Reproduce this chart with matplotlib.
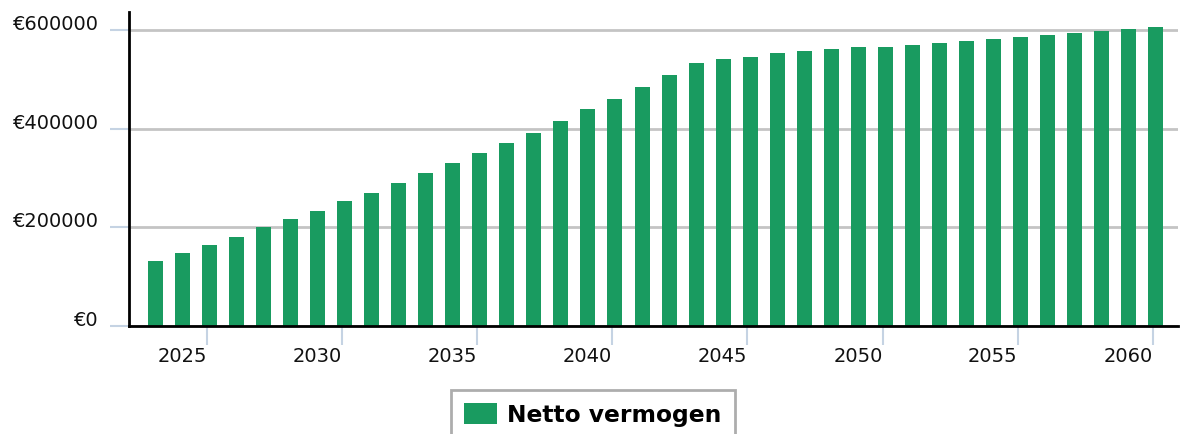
import matplotlib
matplotlib.use("Agg")
import matplotlib.pyplot as plt

# netto vermogen per jaar
years = list(range(2023, 2061))
vermogen = [132000, 148500, 165000, 181000, 201000, 217500, 233500, 254000,
            270000, 290500, 310500, 331000, 351000, 371500, 392000, 416000,
            440500, 460500, 485000, 509500, 533500, 542000, 546000, 554000,
            558000, 562000, 566000, 566000, 570000, 574000, 578000, 582500,
            586500, 590500, 594500, 598500, 602500, 606500]
xticks = [2025, 2030, 2035, 2040, 2045, 2050, 2055, 2060]
yticks = [0, 200000, 400000, 600000]
ylabels = ["€" + str(v) for v in yticks]

green = "#199b60"
tickblue = "#c5d3e3"

fig = plt.figure(figsize=(11.87, 4.34), dpi=100)
ax = fig.add_axes([0.1087, 0.2488, 0.8837, 0.7236])

ax.bar(years, vermogen, width=0.555, color=green, label="Netto vermogen", zorder=3)

ax.set_xlim(2022.02, 2060.83)
ax.set_ylim(0, 637000)

ax.set_yticks(yticks)
ax.set_yticklabels(ylabels, fontsize=14, color="#111111", va="baseline")
ax.set_xticks([x - 0.1 for x in xticks])
ax.set_xticklabels([str(x) for x in xticks], fontsize=14, color="#111111", ha="right")
ax.tick_params(axis="y", length=14, width=1.5, color=tickblue, pad=8)
ax.tick_params(axis="x", length=14, width=1.5, color=tickblue, pad=1)

ax.grid(axis="y", color="#c4c4c4", linewidth=2, zorder=0)
ax.set_axisbelow(True)

for s in ["top", "right"]:
    ax.spines[s].set_visible(False)
for s in ["left", "bottom"]:
    ax.spines[s].set_linewidth(2)
    ax.spines[s].set_color("black")
    ax.spines[s].set_zorder(4)

leg = fig.legend(loc="upper center", bbox_to_anchor=(0.4996, 0.1014),
                 prop={"weight": "bold", "size": 16.8}, frameon=True, fancybox=False,
                 handlelength=1.4, handleheight=1.05, handletextpad=0.45,
                 borderpad=0.55, borderaxespad=0)
leg.get_frame().set_edgecolor("#999999")
leg.get_frame().set_linewidth(2)

fig.savefig("out.png", dpi=100)
